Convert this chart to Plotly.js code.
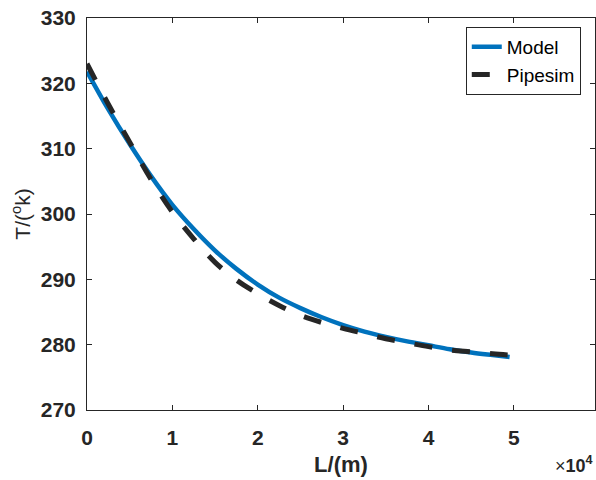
<!DOCTYPE html>
<html>
<head>
<meta charset="utf-8">
<script src="https://cdn.plot.ly/plotly-3.0.1.min.js"></script>
<style>html,body{margin:0;padding:0;background:#fff;}#chart{width:596px;height:480px;}</style>
</head>
<body>
<div id="chart"></div>
<script>
// Length in units of 1e4 m
const lengthX = [0, 0.25, 0.5, 0.75, 1.0, 1.25, 1.5, 1.75, 2.0, 2.25, 2.5, 2.75, 3.0, 3.25, 3.5, 3.75, 4.0, 4.25, 4.5, 4.75, 4.95];
const modelT = [321.8, 316.0, 310.7, 305.8, 301.4, 297.7, 294.4, 291.6, 289.2, 287.2, 285.6, 284.2, 283.0, 282.0, 281.2, 280.5, 279.9, 279.3, 278.8, 278.4, 278.1];
const pipesimT = [323.0, 316.8, 311.0, 305.3, 300.3, 296.2, 292.6, 289.9, 287.8, 286.0, 284.5, 283.4, 282.5, 281.7, 280.9, 280.3, 279.7, 279.2, 278.9, 278.6, 278.4];
const seriesNames = ["Model", "Pipesim"];
const xTicks = [0, 1, 2, 3, 4, 5];
const yTicks = [270, 280, 290, 300, 310, 320, 330];

const FAM = "Liberation Sans, Arial, sans-serif";
const tickFont = {family: FAM, size: 21, color: "#262626", weight: "bold"};

const traces = [
  {x: lengthX, y: modelT, name: seriesNames[0], mode: "lines", line: {color: "#0072BD", width: 4.5, shape: "spline"}},
  {x: lengthX, y: pipesimT, name: seriesNames[1], mode: "lines", line: {color: "#262626", width: 5, dash: "18px,20px", shape: "spline"}}
];

const layout = {
  width: 596, height: 480,
  margin: {l: 87, r: 1, t: 18, b: 70},
  paper_bgcolor: "#fff", plot_bgcolor: "#fff",
  showlegend: true,
  legend: {
    x: 0.972, y: 0.977, xanchor: "right", yanchor: "top",
    bgcolor: "#fff", bordercolor: "#262626", borderwidth: 1,
    font: {family: FAM, size: 19, color: "#000"},
    tracegroupgap: 0, itemwidth: 30
  },
  xaxis: {
    range: [0, 5.95], tickvals: xTicks, ticktext: xTicks.map(String),
    ticks: "inside", ticklen: 5, tickcolor: "#262626", tickwidth: 1,
    showline: true, linecolor: "#262626", linewidth: 1, mirror: "ticks",
    showgrid: false, zeroline: false, tickfont: tickFont, ticklabelstandoff: 9,
    automargin: false,
    title: {text: "L/(m)", font: {family: FAM, size: 22, color: "#262626", weight: "bold"}, standoff: 8}
  },
  yaxis: {
    range: [270, 330], tickvals: yTicks, ticktext: yTicks.map(String),
    ticks: "inside", ticklen: 5, tickcolor: "#262626", tickwidth: 1,
    showline: true, linecolor: "#262626", linewidth: 1, mirror: "ticks",
    showgrid: false, zeroline: false, tickfont: tickFont, ticklabelstandoff: 6,
    automargin: false,
    title: {text: "T/(<sup>o</sup>k)", font: {family: FAM, size: 21, color: "#262626"}, standoff: 4}
  },
  annotations: [{
    xref: "paper", yref: "paper", x: 1.0, y: -0.14, xanchor: "right", yanchor: "middle",
    text: "<span style='font-weight:normal'>×</span><b>10<sup>4</sup></b>", showarrow: false,
    font: {family: FAM, size: 18, color: "#262626"}
  }]
};

Plotly.newPlot("chart", traces, layout, {displayModeBar: false, staticPlot: true});
</script>
</body>
</html>
